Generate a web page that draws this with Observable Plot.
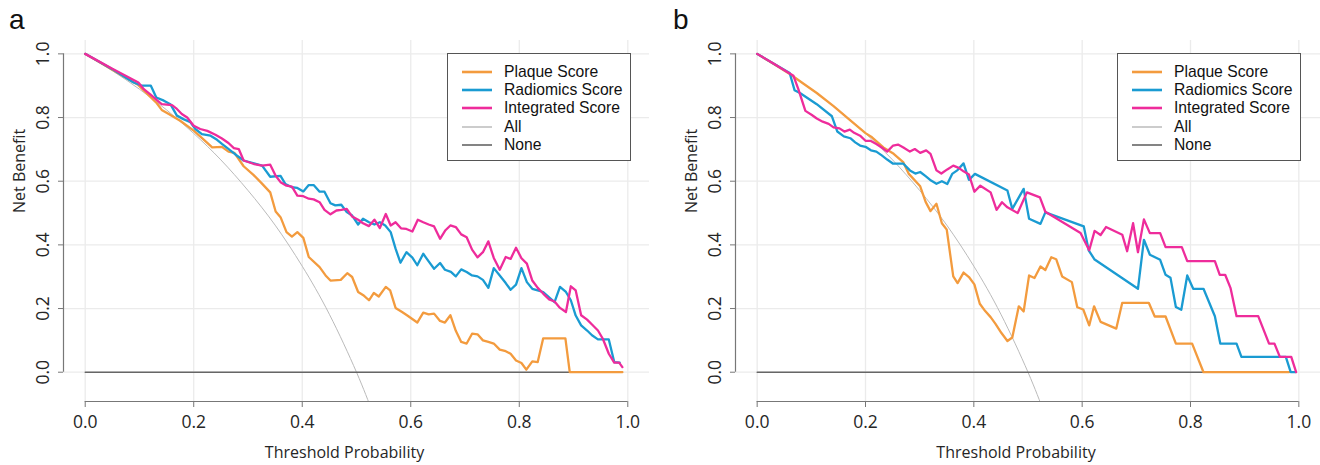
<!DOCTYPE html>
<html>
<head>
<meta charset="utf-8">
<script src="https://cdn.jsdelivr.net/npm/d3@7"></script>
<script src="https://cdn.jsdelivr.net/npm/@observablehq/plot@0.6"></script>
<style>
  body { margin: 0; background: #fff; }
  #wrap { position: relative; width: 1320px; height: 465px; overflow: hidden; background: #fff; }
  .panel { position: absolute; top: 0; width: 660px; height: 465px; }
  .plabel { position: absolute; font-family: "Liberation Sans", Arial, sans-serif; font-size: 28px; line-height: 1; color: #111; }
  .legend { position: absolute; top: 53px; width: 184px; height: 108px; box-sizing: border-box; border: 1px solid #555; background: #fff;
            font-family: "Liberation Sans", Arial, sans-serif; font-size: 15.7px; color: #111; }
  .legend .row { position: absolute; left: 0; width: 100%; height: 18px; line-height: 18px; white-space: nowrap; }
  .legend .row svg { position: absolute; left: 13px; top: 6px; }
  .legend .row span { position: absolute; left: 56px; top: 0; }
</style>
</head>
<body>
<div id="wrap"></div>
<script>
// ---- data ----
const tickValues = [0, 0.2, 0.4, 0.6, 0.8, 1.0];
const panelLabels = ["a", "b"];
const seriesNames = ["Plaque Score", "Radiomics Score", "Integrated Score", "All", "None"];
const seriesColors = ["#F39B3E", "#1A9BD2", "#EE2C9B", "#BBBBBB", "#444444"];
const xTitle = "Threshold Probability";
const yTitle = "Net Benefit";

// "All" (treat-all) curve, same in both panels
const allCurve = [[0,1],[0.05,0.947],[0.1,0.889],[0.15,0.824],[0.2,0.75],[0.25,0.667],[0.3,0.571],[0.35,0.462],[0.4,0.333],[0.45,0.182],[0.5,0.0],[0.53,-0.128]];
const noneLine = [[0,0],[0.99,0]];

// Panel a
const plaqueA = [[0,1],[0.05,0.95],[0.098,0.902],[0.132,0.845],[0.141,0.824],[0.154,0.811],[0.175,0.79],[0.2,0.759],[0.224,0.722],[0.234,0.706],[0.252,0.708],[0.264,0.693],[0.275,0.689],[0.292,0.647],[0.31,0.62],[0.325,0.594],[0.341,0.565],[0.351,0.505],[0.36,0.487],[0.371,0.44],[0.381,0.426],[0.391,0.44],[0.402,0.422],[0.412,0.362],[0.432,0.33],[0.443,0.304],[0.452,0.288],[0.471,0.29],[0.483,0.311],[0.492,0.299],[0.503,0.252],[0.514,0.24],[0.523,0.226],[0.532,0.249],[0.541,0.238],[0.554,0.268],[0.562,0.257],[0.572,0.202],[0.584,0.189],[0.593,0.179],[0.612,0.156],[0.623,0.187],[0.633,0.182],[0.643,0.184],[0.654,0.161],[0.663,0.156],[0.673,0.179],[0.683,0.13],[0.693,0.095],[0.703,0.09],[0.713,0.121],[0.723,0.119],[0.733,0.1],[0.743,0.095],[0.753,0.09],[0.764,0.071],[0.775,0.066],[0.784,0.058],[0.794,0.037],[0.804,0.029],[0.813,0.008],[0.824,0.034],[0.834,0.032],[0.844,0.106],[0.885,0.106],[0.893,0],[0.99,0]];
const radiomicsA = [[0,1],[0.05,0.952],[0.089,0.91],[0.105,0.9],[0.121,0.9],[0.131,0.863],[0.145,0.853],[0.157,0.842],[0.169,0.806],[0.181,0.795],[0.194,0.785],[0.203,0.764],[0.215,0.748],[0.231,0.743],[0.243,0.73],[0.252,0.717],[0.268,0.696],[0.28,0.68],[0.292,0.665],[0.311,0.656],[0.326,0.649],[0.341,0.614],[0.36,0.617],[0.369,0.591],[0.381,0.581],[0.391,0.579],[0.402,0.568],[0.412,0.588],[0.421,0.588],[0.432,0.567],[0.441,0.567],[0.452,0.531],[0.461,0.524],[0.472,0.526],[0.482,0.503],[0.492,0.492],[0.503,0.464],[0.512,0.482],[0.523,0.471],[0.533,0.464],[0.543,0.471],[0.553,0.461],[0.563,0.44],[0.572,0.388],[0.581,0.344],[0.592,0.377],[0.603,0.36],[0.612,0.336],[0.623,0.372],[0.633,0.348],[0.643,0.325],[0.654,0.343],[0.663,0.322],[0.674,0.315],[0.683,0.301],[0.693,0.323],[0.703,0.315],[0.713,0.304],[0.723,0.301],[0.733,0.29],[0.743,0.265],[0.753,0.327],[0.764,0.304],[0.775,0.28],[0.784,0.259],[0.794,0.275],[0.804,0.327],[0.814,0.283],[0.824,0.262],[0.834,0.257],[0.844,0.252],[0.865,0.22],[0.875,0.268],[0.886,0.252],[0.895,0.226],[0.904,0.178],[0.914,0.147],[0.925,0.131],[0.934,0.116],[0.945,0.103],[0.965,0.103],[0.975,0.032],[0.985,0.03]];
const integratedA = [[0,1],[0.05,0.953],[0.098,0.91],[0.108,0.889],[0.12,0.873],[0.132,0.855],[0.141,0.842],[0.16,0.839],[0.169,0.827],[0.178,0.811],[0.188,0.8],[0.2,0.774],[0.212,0.764],[0.225,0.758],[0.24,0.746],[0.252,0.734],[0.264,0.72],[0.274,0.704],[0.283,0.701],[0.292,0.665],[0.311,0.654],[0.326,0.649],[0.341,0.652],[0.351,0.617],[0.36,0.597],[0.371,0.586],[0.381,0.583],[0.391,0.555],[0.402,0.553],[0.412,0.545],[0.421,0.543],[0.432,0.534],[0.441,0.51],[0.452,0.496],[0.463,0.508],[0.472,0.51],[0.482,0.513],[0.492,0.489],[0.503,0.479],[0.512,0.468],[0.523,0.459],[0.533,0.479],[0.543,0.453],[0.554,0.497],[0.563,0.461],[0.572,0.471],[0.582,0.452],[0.592,0.45],[0.603,0.442],[0.613,0.479],[0.623,0.471],[0.633,0.464],[0.643,0.458],[0.654,0.419],[0.664,0.446],[0.673,0.461],[0.683,0.456],[0.693,0.433],[0.703,0.424],[0.713,0.385],[0.723,0.361],[0.733,0.377],[0.743,0.411],[0.753,0.359],[0.764,0.322],[0.775,0.362],[0.784,0.356],[0.794,0.391],[0.804,0.358],[0.814,0.341],[0.824,0.288],[0.834,0.265],[0.844,0.247],[0.855,0.229],[0.865,0.222],[0.875,0.202],[0.886,0.189],[0.895,0.27],[0.904,0.257],[0.914,0.179],[0.925,0.165],[0.934,0.15],[0.945,0.131],[0.954,0.105],[0.965,0.058],[0.975,0.03],[0.984,0.03],[0.99,0.016]];

// Panel b
const plaqueB = [[0,1],[0.03,0.969],[0.061,0.936],[0.085,0.907],[0.11,0.877],[0.141,0.836],[0.172,0.791],[0.2,0.751],[0.212,0.738],[0.233,0.706],[0.252,0.686],[0.27,0.659],[0.28,0.623],[0.301,0.584],[0.311,0.535],[0.32,0.506],[0.331,0.529],[0.341,0.468],[0.35,0.448],[0.362,0.301],[0.37,0.28],[0.381,0.313],[0.391,0.299],[0.401,0.276],[0.411,0.215],[0.421,0.192],[0.431,0.173],[0.44,0.152],[0.451,0.123],[0.462,0.098],[0.471,0.109],[0.483,0.207],[0.492,0.191],[0.502,0.304],[0.512,0.296],[0.523,0.332],[0.532,0.321],[0.543,0.361],[0.552,0.355],[0.563,0.301],[0.581,0.283],[0.591,0.204],[0.602,0.197],[0.613,0.147],[0.622,0.207],[0.634,0.158],[0.663,0.137],[0.674,0.218],[0.723,0.218],[0.734,0.175],[0.754,0.175],[0.773,0.09],[0.803,0.09],[0.824,0],[0.982,0]];
const radiomicsB = [[0,1],[0.03,0.97],[0.06,0.94],[0.069,0.886],[0.079,0.877],[0.11,0.842],[0.138,0.804],[0.148,0.756],[0.16,0.741],[0.172,0.735],[0.181,0.722],[0.19,0.712],[0.2,0.708],[0.21,0.697],[0.22,0.693],[0.23,0.681],[0.24,0.668],[0.251,0.655],[0.27,0.655],[0.282,0.634],[0.292,0.624],[0.301,0.629],[0.311,0.616],[0.321,0.602],[0.331,0.592],[0.341,0.6],[0.351,0.591],[0.36,0.623],[0.37,0.635],[0.381,0.656],[0.391,0.604],[0.402,0.623],[0.462,0.571],[0.471,0.513],[0.492,0.576],[0.502,0.482],[0.523,0.466],[0.532,0.502],[0.603,0.458],[0.612,0.383],[0.623,0.354],[0.703,0.262],[0.714,0.416],[0.725,0.369],[0.744,0.353],[0.754,0.306],[0.763,0.297],[0.773,0.205],[0.783,0.196],[0.794,0.304],[0.805,0.262],[0.824,0.262],[0.845,0.176],[0.855,0.09],[0.885,0.09],[0.894,0.048],[0.976,0.048],[0.985,0],[0.994,0]];
const integratedB = [[0,1],[0.03,0.97],[0.067,0.931],[0.076,0.889],[0.089,0.821],[0.101,0.808],[0.11,0.797],[0.121,0.787],[0.132,0.78],[0.141,0.769],[0.152,0.766],[0.161,0.756],[0.171,0.762],[0.179,0.752],[0.19,0.743],[0.2,0.727],[0.209,0.727],[0.22,0.717],[0.23,0.706],[0.24,0.693],[0.251,0.712],[0.26,0.715],[0.27,0.706],[0.282,0.693],[0.291,0.701],[0.301,0.689],[0.312,0.697],[0.32,0.686],[0.331,0.634],[0.34,0.624],[0.351,0.637],[0.362,0.649],[0.372,0.642],[0.381,0.631],[0.391,0.621],[0.401,0.567],[0.412,0.586],[0.431,0.565],[0.442,0.51],[0.452,0.534],[0.462,0.518],[0.481,0.5],[0.498,0.565],[0.522,0.549],[0.532,0.504],[0.597,0.437],[0.613,0.383],[0.623,0.444],[0.634,0.431],[0.644,0.456],[0.674,0.432],[0.683,0.38],[0.694,0.468],[0.703,0.377],[0.714,0.48],[0.725,0.437],[0.744,0.437],[0.754,0.393],[0.784,0.393],[0.794,0.349],[0.845,0.349],[0.854,0.306],[0.864,0.306],[0.874,0.264],[0.885,0.176],[0.925,0.176],[0.945,0.09],[0.955,0.09],[0.965,0.048],[0.986,0.048],[0.995,0]];

// ---- drawing ----
const xDomain = [-0.04, 1.04];
const yDomain = [-0.092, 1.042];
const fmt = d3.format(".1f");
const seriesWidths = [2.3, 2.3, 2.3, 1, 1.4];
const tickFont = 17.5, titleFont = 16;

function makePanel(series, ml, mr) {
  const X = d => d[0], Y = d => d[1];
  return Plot.plot({
    width: 660, height: 465,
    marginTop: 40, marginBottom: 64, marginLeft: ml, marginRight: mr,
    x: {domain: xDomain},
    y: {domain: yDomain},
    style: {fontFamily: "'Open Sans', sans-serif", fontSize: "15px", color: "#262626", background: "transparent"},
    marks: [
      Plot.gridX(tickValues, {stroke: "#ebebeb", strokeOpacity: 1, strokeWidth: 1.3}),
      Plot.gridY(tickValues, {stroke: "#ebebeb", strokeOpacity: 1, strokeWidth: 1.3}),
      Plot.line(allCurve, {x: X, y: Y, stroke: seriesColors[3], strokeWidth: seriesWidths[3], curve: "natural", clip: true}),
      Plot.line(noneLine, {x: X, y: Y, stroke: "#666", strokeWidth: seriesWidths[4]}),
      Plot.line(series[0], {x: X, y: Y, stroke: seriesColors[0], strokeWidth: seriesWidths[0]}),
      Plot.line(series[1], {x: X, y: Y, stroke: seriesColors[1], strokeWidth: seriesWidths[1]}),
      Plot.line(series[2], {x: X, y: Y, stroke: seriesColors[2], strokeWidth: seriesWidths[2]}),
      // R-style axis lines spanning the tick range
      Plot.ruleX([xDomain[0]], {y1: tickValues[0], y2: tickValues[tickValues.length - 1], stroke: "#777", strokeWidth: 1.2}),
      Plot.ruleY([yDomain[0]], {x1: tickValues[0], x2: tickValues[tickValues.length - 1], stroke: "#777", strokeWidth: 1.2}),
      Plot.axisX(tickValues, {anchor: "bottom", tickSize: 6, tickPadding: 8, tickFormat: fmt, stroke: "#777",
        fontSize: tickFont, label: null}),
      Plot.axisY(tickValues, {anchor: "left", tickSize: 5, tickFormat: () => "", stroke: "#777", label: null}),
      Plot.text(tickValues, {y: d => d, frameAnchor: "left", text: fmt, rotate: -90, dx: -20,
        textAnchor: "middle", lineAnchor: "middle", fill: "#262626", fontSize: tickFont}),
      // axis titles
      Plot.text([xTitle], {frameAnchor: "bottom", text: d => d, dx: -12, dy: 51, lineAnchor: "middle",
        fill: "#262626", fontSize: titleFont}),
      Plot.text([yTitle], {frameAnchor: "left", text: d => d, rotate: -90, dx: -44, dy: -8, lineAnchor: "middle",
        fill: "#262626", fontSize: titleFont})
    ]
  });
}

function makeLegend(left) {
  const box = document.createElement("div");
  box.className = "legend";
  box.style.left = left + "px";
  seriesNames.forEach((name, i) => {
    const row = document.createElement("div");
    row.className = "row";
    row.style.top = (8.7 + i * 18.3) + "px";
    const col = i === 4 ? "#333" : seriesColors[i];
    const w = i < 3 ? 2.6 : (i === 3 ? 1.5 : 1.2);
    row.innerHTML = `<svg width="32" height="6"><line x1="1" x2="31" y1="3" y2="3" stroke="${col}" stroke-width="${w}"/></svg><span>${name}</span>`;
    box.appendChild(row);
  });
  return box;
}

const wrap = document.getElementById("wrap");
const panels = [
  {left: 0, ml: 63, mr: 11, series: [plaqueA, radiomicsA, integratedA], legendLeft: 447, labelLeft: 9},
  {left: 660, ml: 75, mr: 0, series: [plaqueB, radiomicsB, integratedB], legendLeft: 1117, labelLeft: 673}
];
panels.forEach((p, k) => {
  const div = document.createElement("div");
  div.className = "panel";
  div.style.left = p.left + "px";
  div.appendChild(makePanel(p.series, p.ml, p.mr));
  wrap.appendChild(div);
  wrap.appendChild(makeLegend(p.legendLeft));
  const lab = document.createElement("div");
  lab.className = "plabel";
  lab.style.left = p.labelLeft + "px";
  lab.style.top = "6px";
  lab.textContent = panelLabels[k];
  wrap.appendChild(lab);
});
</script>
</body>
</html>
